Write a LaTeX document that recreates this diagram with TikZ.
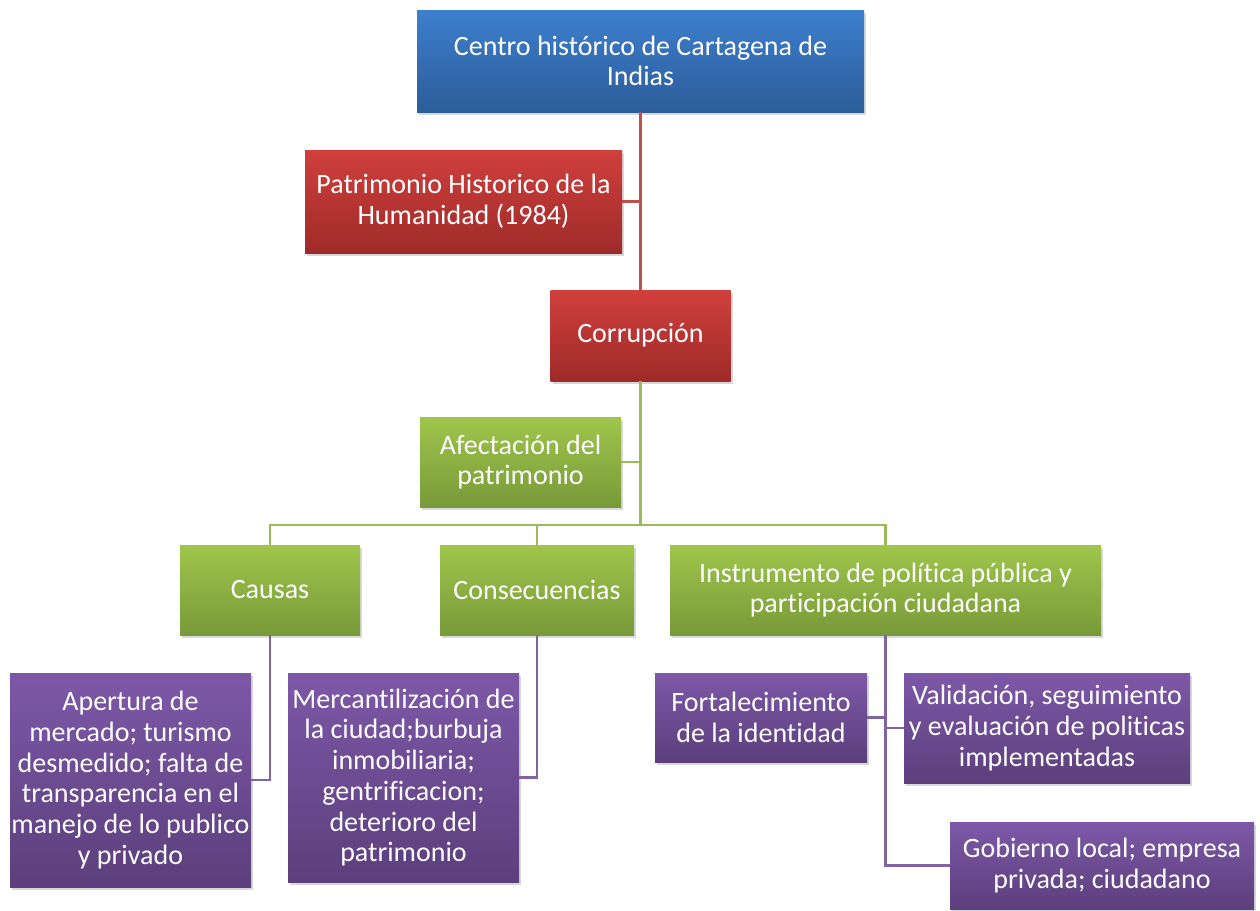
\documentclass[tikz,border=0pt]{standalone}
\usepackage{fontspec}
\setmainfont{Carlito}[Ligatures=NoCommon]
\usetikzlibrary{shadows}
\definecolor{blueT}{HTML}{3D7FCD}
\definecolor{blueB}{HTML}{2C5D9A}
\definecolor{redT}{HTML}{D03F3C}
\definecolor{redB}{HTML}{9E2B29}
\definecolor{greenT}{HTML}{9FC54B}
\definecolor{greenB}{HTML}{789A39}
\definecolor{purpT}{HTML}{7D58A8}
\definecolor{purpB}{HTML}{5C3F7C}
\definecolor{redL}{HTML}{C0504D}
\definecolor{greenL}{HTML}{9BBB59}
\definecolor{purpL}{HTML}{8064A2}
\begin{document}
\begin{tikzpicture}[x=1pt,y=-1pt,
  base/.style={draw=none, text=white, align=center, inner sep=0pt,
    font=\fontsize{28}{30.7}\selectfont,
    drop shadow={opacity=0.3, shadow xshift=2pt, shadow yshift=-3pt}},
  bluebox/.style={base, top color=blueT, bottom color=blueB},
  redbox/.style={base, top color=redT, bottom color=redB},
  greenbox/.style={base, top color=greenT, bottom color=greenB},
  purpbox/.style={base, top color=purpT, bottom color=purpB},
  redline/.style={draw=redL, line width=2.2pt},
  greenline/.style={draw=greenL, line width=2.2pt},
  purpline/.style={draw=purpL, line width=2.2pt}
]
\useasboundingbox (0,0) rectangle (1260,910);
\fill[white] (0,0) rectangle (1260,910);

\node[bluebox, minimum width=447pt, minimum height=102pt] (blue) at (640.5,61) {Centro histórico de Cartagena de\\Indias};
\node[redbox, minimum width=317pt, minimum height=103pt] (patr) at (463.5,201.5) {Patrimonio Historico de la\\Humanidad (1984)};
\node[redbox, minimum width=180pt, minimum height=91pt] (corr) at (640.5,335.5) {Corrupción};
\node[greenbox, minimum width=201pt, minimum height=90pt] (afect) at (520.5,462) {Afectación del\\patrimonio};
\node[greenbox, minimum width=180pt, minimum height=90pt] (causas) at (270,590) {Causas};
\node[greenbox, minimum width=194pt, minimum height=90pt] (cons) at (537,590) {Consecuencias};
\node[greenbox, minimum width=431pt, minimum height=90pt] (instr) at (885.5,590) {Instrumento de política pública y\\participación ciudadana};
\node[purpbox, minimum width=241pt, minimum height=214pt] (apert) at (130.5,780) {Apertura de\\mercado; turismo\\desmedido; falta de\\transparencia en el\\manejo de lo publico\\y privado};
\node[purpbox, minimum width=231pt, minimum height=209pt] (merc) at (403.5,777.5) {Mercantilización de\\la ciudad;burbuja\\inmobiliaria;\\gentrificacion;\\deterioro del\\patrimonio};
\node[purpbox, minimum width=212pt, minimum height=89pt] (fort) at (761,717.5) {Fortalecimiento\\de la identidad};
\node[purpbox, minimum width=286pt, minimum height=110pt] (valid) at (1047,728) {Validación, seguimiento\\y evaluación de politicas\\implementadas};
\node[purpbox, minimum width=304pt, minimum height=87pt] (gob) at (1102,865.5) {Gobierno local; empresa\\privada; ciudadano};

\coordinate (bar) at (640.5,525);

\draw[redline] (blue.south) -- (blue.south |- corr.north);
\draw[redline] (blue.south) |- (patr.east);
\draw[greenline] (corr.south) -- (bar);
\draw[greenline] (corr.south) |- (afect.east);
\draw[greenline] (causas.north) -- (causas.north |- bar) -- (instr.north |- bar) -- (instr.north);
\draw[greenline] (cons.north) -- (cons.north |- bar);
\draw[purpline] (causas.south) |- (apert.east);
\draw[purpline] (cons.south) |- (merc.east);
\draw[purpline] (instr.south) |- (fort.east);
\draw[purpline] (instr.south) |- (valid.west);
\draw[purpline] (instr.south) |- (gob.west);
\end{tikzpicture}
\end{document}
